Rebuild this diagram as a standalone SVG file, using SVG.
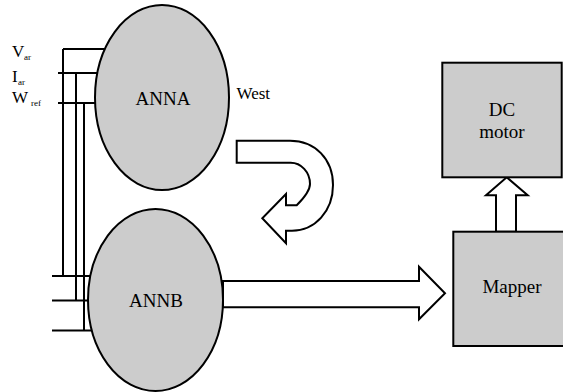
<svg xmlns="http://www.w3.org/2000/svg" width="563" height="392" viewBox="0 0 563 392">
<style>
.ln{stroke:#000;stroke-width:2;fill:none}
.nd{fill:#cccccc;stroke:#000;stroke-width:2}
.ar{fill:#fff;stroke:#000;stroke-width:2;stroke-linejoin:miter}
.lb{font-size:19px;text-anchor:middle}
.in{font-size:17px}
.sb{font-size:9px}
</style>
<rect width="563" height="392" fill="#fff"/>
<g id="connectors">
<path class="ln" d="M63,49 H110 M58,73 H110 M58,103 H110"/>
<path class="ln" d="M63,49 V276 M76,73 V300.5 M84,103 V330.5"/>
<path class="ln" d="M52,276 H100 M52,300.5 H100 M52,330.5 H100"/>
<path id="uturn" class="ar" d="M236.7,140.7 L290,140.7 C315,140.7 333,159 333,185 C333,211 315,230.7 292,230.7 L286,230.7 L286,243.3 L262.3,218.3 L286,194 L286,205.3 L296.7,205.3 C304,198 310,191 310,184 C310,172 301,162.7 290.7,162.7 L236.7,162.7 Z"/>
<path id="arrow-annb-mapper" class="ar" d="M223,281 L419,281 L419,266.7 L445,293.3 L419,319.3 L419,307.3 L223,307.3 Z"/>
<path id="arrow-mapper-dc" class="ar" d="M496,231.7 L496,195.3 L486,195.3 L506.7,177.3 L527.7,195.3 L516,195.3 L516,231.7 Z"/>
</g>
<g font-family="Liberation Serif, serif" fill="#000">
<g id="labels">
<text class="in" x="12" y="57">V</text><text class="sb" x="24" y="60">ar</text>
<text class="in" x="12" y="82">I</text><text class="sb" x="18" y="85">ar</text>
<text class="in" x="12" y="103">W</text><text class="sb" x="31" y="106">ref</text>
<text class="in" x="236.5" y="98.5">West</text>
</g>
</g>
<g id="ANNA" font-family="Liberation Serif, serif">
<ellipse class="nd" cx="162" cy="97.5" rx="67" ry="92.5"/>
<text class="lb" x="163" y="104.5">ANNA</text>
</g>
<g id="ANNB" font-family="Liberation Serif, serif">
<ellipse class="nd" cx="155.5" cy="300" rx="67.5" ry="91"/>
<text class="lb" x="156" y="307">ANNB</text>
</g>
<g id="DCmotor" font-family="Liberation Serif, serif">
<rect class="nd" x="442.3" y="62.7" width="119.4" height="114.6"/>
<text class="lb" x="502" y="116">DC</text>
<text class="lb" x="502" y="138.3">motor</text>
</g>
<g id="Mapper" font-family="Liberation Serif, serif">
<rect class="nd" x="453.3" y="231.7" width="120" height="114.3"/>
<text class="lb" x="512" y="293.3">Mapper</text>
</g>
</svg>
